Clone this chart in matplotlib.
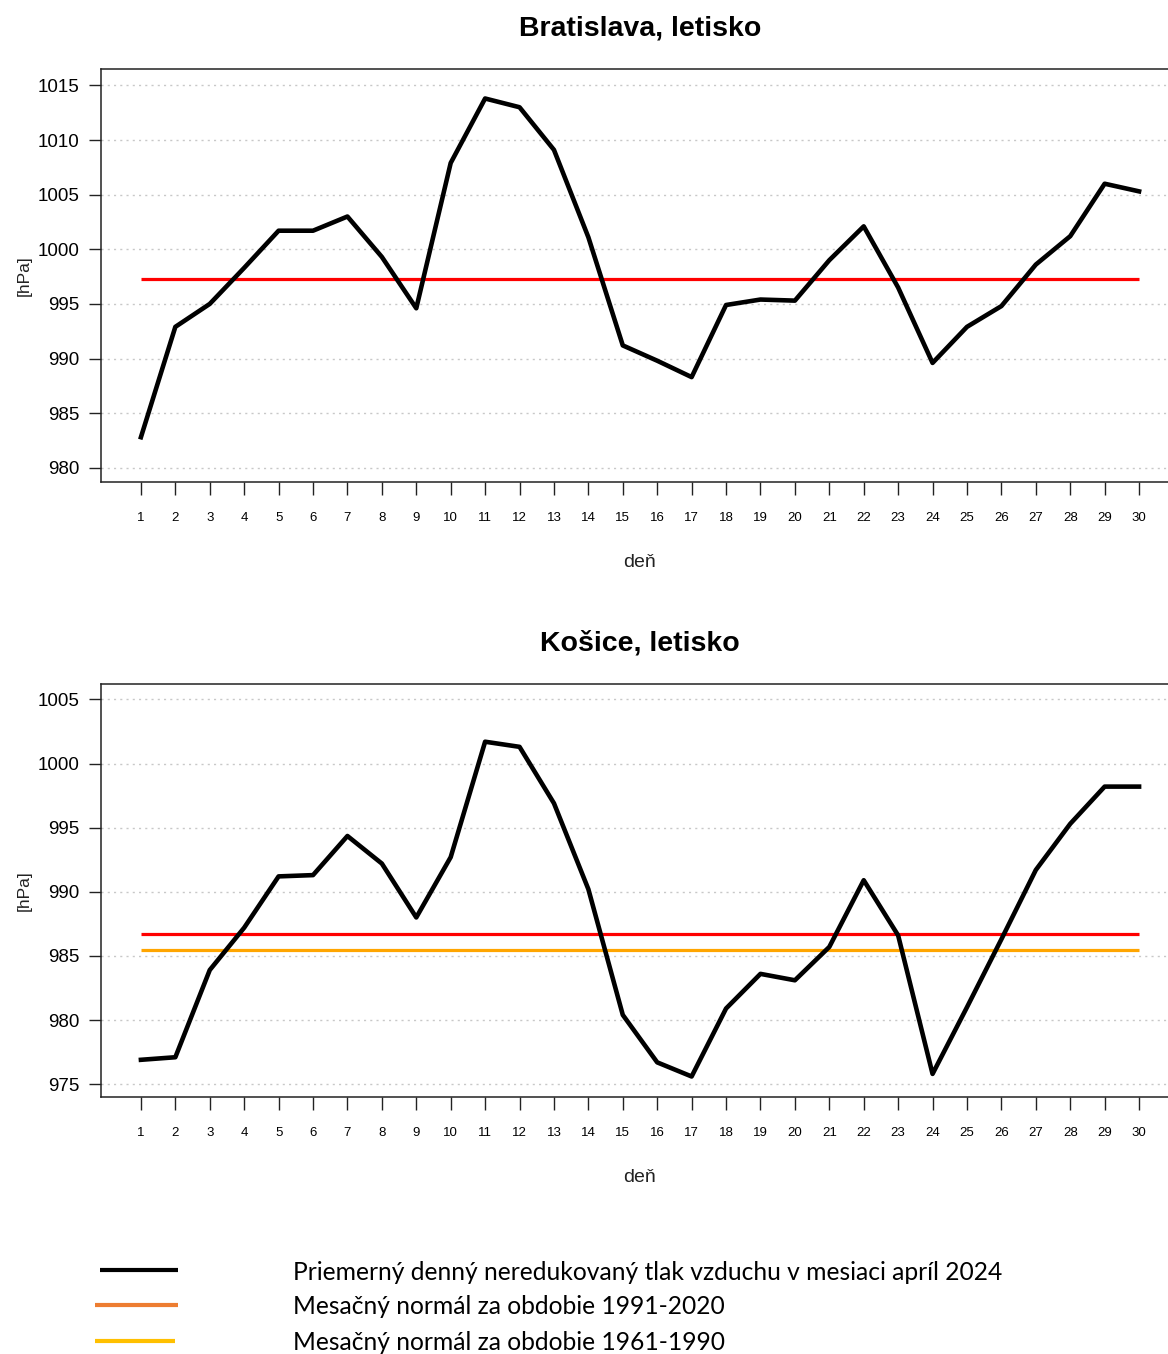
import matplotlib
matplotlib.use("Agg")
import matplotlib.pyplot as plt
from matplotlib.lines import Line2D
import numpy as np

# ---- data ----
days = list(range(1, 31))

ba_pressure = [982.8, 992.9, 995.0, 998.3, 1001.7, 1001.7, 1003.0, 999.3, 994.6, 1007.9,
               1013.8, 1013.0, 1009.1, 1001.1, 991.2, 989.8, 988.3, 994.9, 995.4, 995.3,
               999.0, 1002.1, 996.5, 989.6, 992.9, 994.8, 998.6, 1001.2, 1006.0, 1005.3]
ba_normal_9120 = 997.3

ke_pressure = [976.9, 977.1, 983.9, 987.2, 991.2, 991.3, 994.35, 992.2, 988.0, 992.7,
               1001.7, 1001.3, 996.9, 990.2, 980.4, 976.7, 975.6, 980.9, 983.6, 983.1,
               985.7, 990.9, 986.6, 975.8, 981.0, 986.3, 991.7, 995.3, 998.2, 998.2]
ke_normal_9120 = 986.7
ke_normal_6190 = 985.5

ba_yticks = [980, 985, 990, 995, 1000, 1005, 1010, 1015]
ke_yticks = [975, 980, 985, 990, 995, 1000, 1005]

legend_labels = ["Priemerný denný neredukovaný tlak vzduchu v mesiaci apríl 2024",
                 "Mesačný normál za obdobie 1991-2020",
                 "Mesačný normál za obdobie 1961-1990"]
legend_colors = ["black", "#ED7D31", "#FFC000"]

plt.rcParams['font.family'] = ['Liberation Sans', 'DejaVu Sans']

W, H = 1168, 1354
fig = plt.figure(figsize=(W / 100, H / 100), dpi=100)


def fx(px):
    return px / W


def fy(py):
    return 1 - py / H


def panel(top_px, bottom_px, title, values, normals, yticks, ylim):
    ax = fig.add_axes([fx(101), fy(bottom_px), fx(1179) - fx(101), fy(top_px) - fy(bottom_px)])
    for y in yticks:
        ax.axhline(y, color="#c8c8c8", lw=1.0, ls=(0, (1.5, 3)), zorder=0)
    for val, col in normals:
        ax.plot([days[0], days[-1]], [val, val], color=col, lw=2.3, solid_capstyle="butt", zorder=2)
    ax.plot(days, values, color="black", lw=3.3, zorder=3)
    ax.set_xlim(-0.16, 31.16)
    ax.set_ylim(*ylim)
    ax.set_xticks(days)
    ax.set_xticklabels([str(d) for d in days], fontsize=9.5)
    ax.set_yticks(yticks)
    ax.set_yticklabels([str(y) for y in yticks], fontsize=13.5)
    ax.tick_params(axis="x", length=9.5, width=1.0, pad=12, color="#222222")
    ax.tick_params(axis="y", length=8.5, width=1.0, pad=7, color="#222222")
    for s in ax.spines.values():
        s.set_linewidth(1.1)
        s.set_color("#222222")
    ax.set_title(title, fontsize=20.5, fontweight="bold", pad=24)
    ax.set_xlabel("deň", fontsize=14, labelpad=22, color="#222222")
    ax.set_ylabel("[hPa]", fontsize=12.5, labelpad=4, color="#222222")
    return ax


panel(69, 482, "Bratislava, letisko", ba_pressure,
      [(ba_normal_9120, "#FF0000")], ba_yticks, (978.7, 1016.5))
panel(684, 1097, "Košice, letisko", ke_pressure,
      [(ke_normal_9120, "#FF0000"), (ke_normal_6190, "#FFA500")], ke_yticks, (974.0, 1006.2))

# ---- legend under the charts ----
leg_y = [1270, 1305, 1341]
leg_x = [(100, 178), (95, 178), (95, 175)]
for (x0, x1), y, col, lab in zip(leg_x, leg_y, legend_colors, legend_labels):
    fig.add_artist(Line2D([fx(x0), fx(x1)], [fy(y), fy(y)], color=col, lw=3.0,
                          solid_capstyle="butt"))
    fig.text(fx(293), fy(y + 2), lab, fontsize=17.7, family=['Lato', 'DejaVu Sans'],
             ha="left", va="center", color="black")

fig.savefig("out.png", dpi=100)
